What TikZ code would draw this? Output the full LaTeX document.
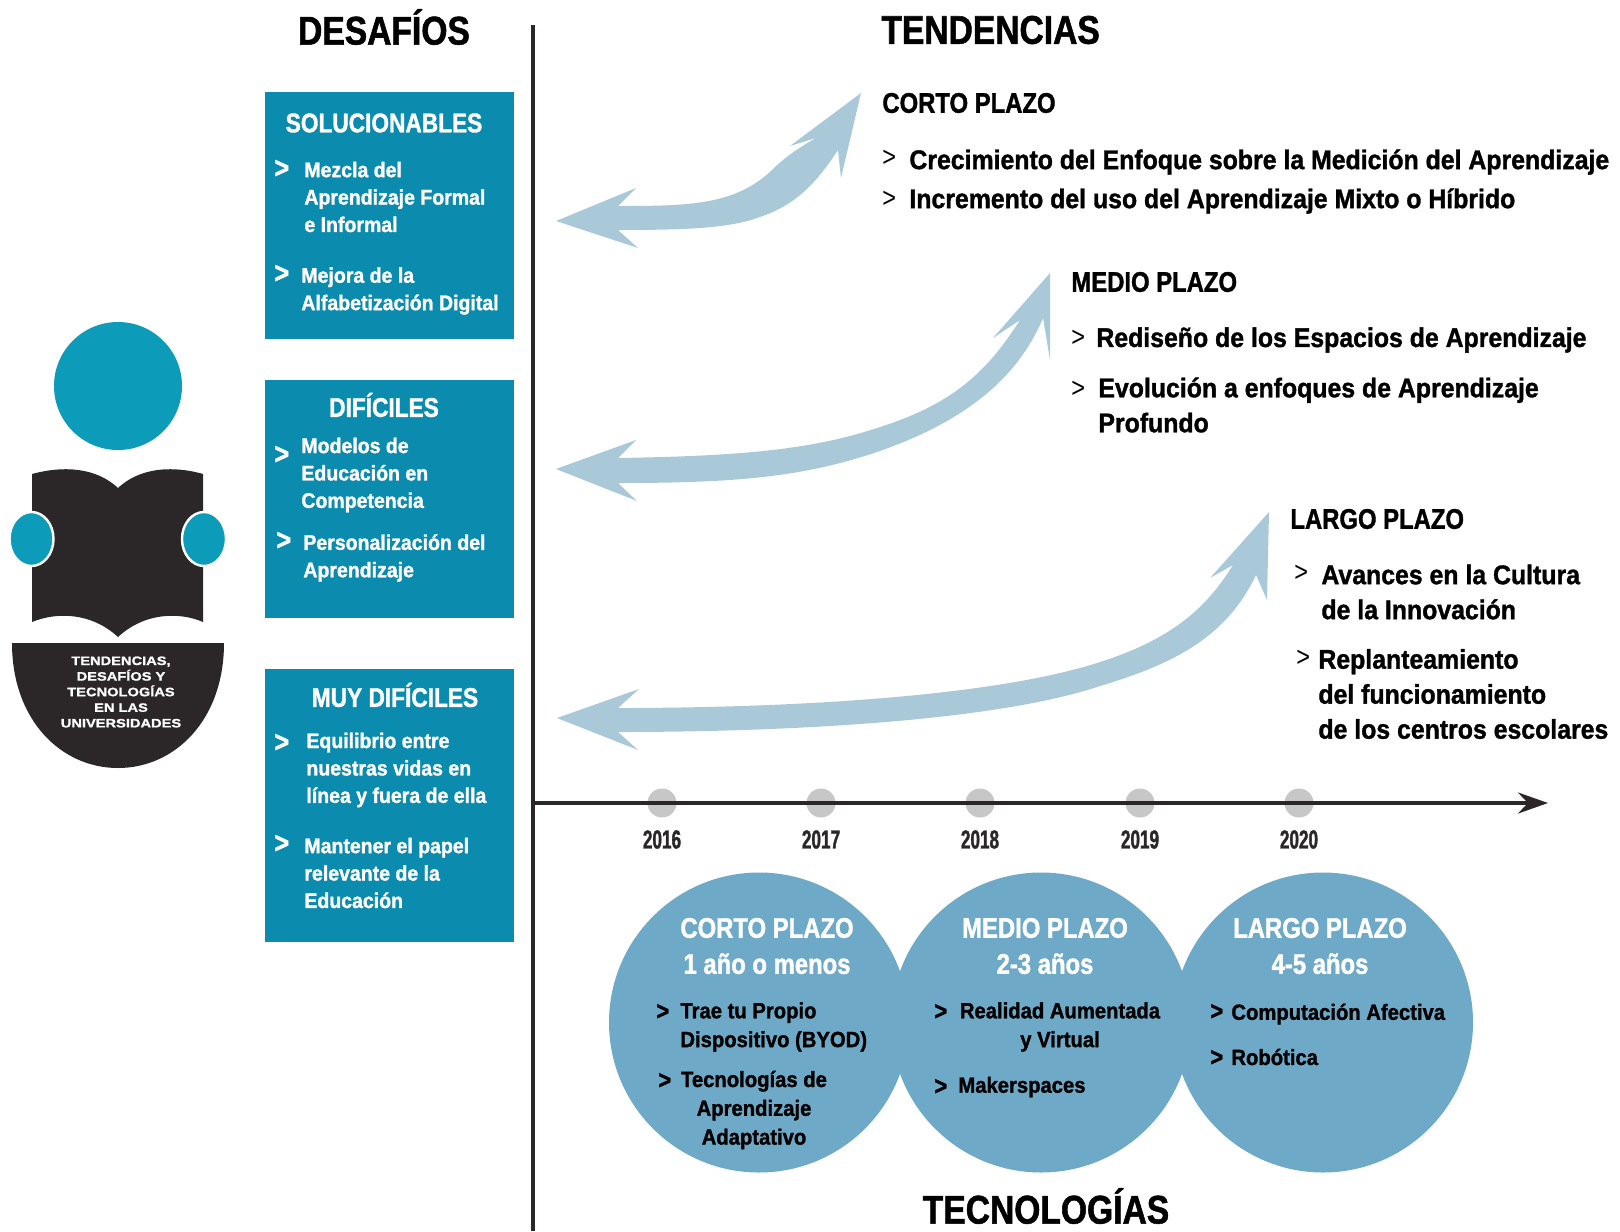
\documentclass[tikz,border=0pt]{standalone}
\usepackage{fontspec}
\setmainfont{Liberation Sans}[FakeStretch=0.84, BoldFeatures={FakeBold=1.3}]
\newfontfamily\itemfont{Liberation Sans}[FakeStretch=0.92, BoldFeatures={FakeBold=1.3}]
\newfontfamily\yearfont{Liberation Sans}[FakeStretch=0.66, BoldFeatures={FakeBold=1.3}]
\newfontfamily\widefont{Liberation Sans}[FakeStretch=1.2, BoldFeatures={FakeBold=1.3}]
\usetikzlibrary{positioning}
\usetikzlibrary{shapes.geometric}
\usetikzlibrary{arrows.meta}
\definecolor{panelblue}{HTML}{0B8BAD}
\definecolor{headblue}{HTML}{0C9BB8}
\definecolor{circleblue}{HTML}{6EAAC8}
\definecolor{swooshblue}{HTML}{A9C9D9}
\definecolor{bookdark}{HTML}{2B2627}

\begin{document}
\begin{tikzpicture}[
        x = 0.5pt,
        y = -0.5pt,
        panel/.style = {
            fill=panelblue,
            minimum width = 124.5pt,
            inner sep = 0pt,
            outer sep = 0pt
        },
        bubble/.style = {
            circle,
            fill=circleblue,
            minimum size = 150pt,
            inner sep = 0pt
        },
        hand/.style = {
            ellipse,
            fill=headblue,
            draw=white,
            line width = 1.2pt,
            minimum width = 22pt,
            minimum height = 27pt,
            inner sep = 0pt
        },
        dot/.style = {
            circle,
            fill=black!22,
            minimum size = 14.5pt,
            inner sep = 0pt
        },
        heading/.style = {font=\fontsize{20}{21}\selectfont\bfseries, inner sep = 0pt},
        term/.style = {font=\fontsize{14.2}{16}\selectfont\bfseries, inner sep = 0pt, anchor=west},
        point/.style = {font=\itemfont\fontsize{13.5}{17.5}\selectfont\bfseries, inner sep = 0pt, anchor=west, align=left},
        mark right/.style = {font=\fontsize{14}{16}\selectfont, inner sep = 0pt, anchor=west},
        paneltitle/.style = {font=\fontsize{13.5}{16}\selectfont\bfseries, text=white, inner sep = 0pt},
        paneltext/.style = {font=\itemfont\fontsize{10.6}{13.7}\selectfont\bfseries, text=white, inner sep = 0pt, anchor=west, align=left},
        panelmark/.style = {font=\fontsize{15}{16}\selectfont\bfseries, text=white, inner sep = 0pt, anchor=west},
        bubbletitle/.style = {font=\fontsize{14.2}{18}\selectfont\bfseries, text=white, inner sep = 0pt, align=center},
        bubbletext/.style = {font=\itemfont\fontsize{11}{14.4}\selectfont\bfseries, inner sep = 0pt, anchor=west, align=left},
        bubblemark/.style = {font=\fontsize{13}{15}\selectfont\bfseries, inner sep = 0pt, anchor=west},
        year/.style = {font=\yearfont\fontsize{13}{14}\selectfont\bfseries, text=bookdark, inner sep = 0pt}
    ]
    \useasboundingbox (0,0) rectangle (1620,1231);

    \node[circle, fill=headblue, minimum size = 64pt, inner sep = 0pt] (head) at (118,386) {};
    \fill[bookdark] (32,474) .. controls (50,469) and (90,462) .. (118,488) .. controls (146,462) and (186,469) .. (203,474) -- (203,622) .. controls (180,612) and (145,612) .. (118,637) .. controls (91,612) and (56,612) .. (32,622) -- cycle;
    \fill[bookdark] (12,643) -- (224,643) .. controls (224,720) and (175,768) .. (118,768) .. controls (61,768) and (12,720) .. (12,643) -- cycle;
    \node[hand] (lefthand) at (31.5,539) {};
    \node[hand] (righthand) at (204,539) {};
    \node[font=\widefont\fontsize{6.1}{7.8}\selectfont\bfseries, text=white, align=center, inner sep = 0pt] (caption) at (121,692) {TENDENCIAS,\\DESAFÍOS Y\\TECNOLOGÍAS\\EN LAS\\UNIVERSIDADES};

    \node[heading] (desafios) at (384,27) {DESAFÍOS};
    \node[heading, anchor=west] (tendencias) at (881,30) {TENDENCIAS};
    \node[heading] (tecnologias) at (1046,1206) {TECNOLOGÍAS};

    \node[panel, minimum height = 123.5pt] (solucionables) at (389,215.5) {};
    \node[panel, minimum height = 119pt] (dificiles) at (389,499) {};
    \node[panel, minimum height = 136.5pt] (muydificiles) at (389,805.5) {};

    \node[paneltitle] (t1) at (384,123) {SOLUCIONABLES};
    \node[panelmark] (m1) at (274,169) {>};
    \node[paneltext] (p1) at (304,197) {Mezcla del\\Aprendizaje Formal\\e Informal};
    \node[panelmark] (m2) at (274,274) {>};
    \node[paneltext] (p2) at (301,291) {Mejora de la\\Alfabetización Digital};
    \node[paneltitle] (t2) at (384,405) {DIFÍCILES};
    \node[panelmark] (m3) at (274,455) {>};
    \node[paneltext] (p3) at (301,475) {Modelos de\\Educación en\\Competencia};
    \node[panelmark] (m4) at (276,541) {>};
    \node[paneltext] (p4) at (303,558) {Personalización del\\Aprendizaje};
    \node[paneltitle] (t3) at (395,695) {MUY DIFÍCILES};
    \node[panelmark] (m5) at (274,743) {>};
    \node[paneltext] (p5) at (306,770) {Equilibrio entre\\nuestras vidas en\\línea y fuera de ella};
    \node[panelmark] (m6) at (274,844) {>};
    \node[paneltext] (p6) at (304,873) {Mantener el papel\\relevante de la\\Educación};

    \draw[line width = 1.6pt, bookdark] (533,25) coordinate (linetop) -- (533,1231) coordinate (linebottom);
    \coordinate (axisstart) at (533,803);
    \coordinate (axisend) at (1548,803);

    \fill[swooshblue] (556,221) -- (636,188) -- (618,206) .. controls (690,206) and (735,205) .. (772,170) .. controls (785,157) and (800,147) .. (816,138) -- (790,146) -- (861,93) -- (841,178) -- (838,150) .. controls (815,185) and (795,205) .. (760,217) .. controls (730,228) and (690,230) .. (618,230) -- (638,248) -- cycle;
    \fill[swooshblue] (556,469) -- (636,440) -- (618,458) .. controls (740,456) and (810,450) .. (877,428) .. controls (950,405) and (985,375) .. (1020,320) -- (993,338) -- (1050,273) -- (1050,360) -- (1043,318) .. controls (1015,385) and (955,425) .. (877,452) .. controls (800,478) and (730,483) .. (618,483) -- (637,501) -- cycle;
    \fill[swooshblue] (557,718) -- (639,689) -- (618,708) .. controls (760,708) and (980,700) .. (1097,663) .. controls (1170,640) and (1205,610) .. (1233,565) -- (1210,578) -- (1269,512) -- (1267,600) -- (1256,575) .. controls (1225,640) and (1170,665) .. (1097,687) .. controls (990,722) and (780,732) .. (618,732) -- (638,750) -- cycle;

    \node[term] (corto) at (882,103) {CORTO PLAZO};
    \node[mark right] (r1) at (882,158) {>};
    \node[point] (c1) at (909,162) {Crecimiento del Enfoque sobre la Medición del Aprendizaje};
    \node[mark right] (r2) at (882,199) {>};
    \node[point] (c2) at (909,201) {Incremento del uso del Aprendizaje Mixto o Híbrido};
    \node[term] (medio) at (1071,282) {MEDIO PLAZO};
    \node[mark right] (r3) at (1071,338) {>};
    \node[point] (c3) at (1096,340) {Rediseño de los Espacios de Aprendizaje};
    \node[mark right] (r4) at (1071,389) {>};
    \node[point] (c4) at (1098,405) {Evolución a enfoques de Aprendizaje\\Profundo};
    \node[term] (largo) at (1290,519) {LARGO PLAZO};
    \node[mark right] (r5) at (1294,573) {>};
    \node[point] (c5) at (1321,592) {Avances en la Cultura\\de la Innovación};
    \node[mark right] (r6) at (1296,658) {>};
    \node[point] (c6) at (1318,694) {Replanteamiento\\del funcionamiento\\de los centros escolares};

    \node[dot] (d1) at (662,803) {};
    \node[dot] (d2) at (821,803) {};
    \node[dot] (d3) at (980,803) {};
    \node[dot] (d4) at (1140,803) {};
    \node[dot] (d5) at (1299,803) {};
    \draw[line width = 2pt, bookdark, -{Stealth[length=15pt, width=10.5pt, inset=5pt]}] (axisstart) -- (axisend);
    \node[year, below=6pt of d1] (y1) {2016};
    \node[year, below=6pt of d2] (y2) {2017};
    \node[year, below=6pt of d3] (y3) {2018};
    \node[year, below=6pt of d4] (y4) {2019};
    \node[year, below=6pt of d5] (y5) {2020};

    \node[bubble] (b1) at (759,1022.5) {};
    \node[bubble] (b2) at (1041,1022.5) {};
    \node[bubble] (b3) at (1323,1022.5) {};

    \node[bubbletitle] (h1) at (767,946) {CORTO PLAZO\\1 año o menos};
    \node[bubblemark] (a1) at (656,1012) {>};
    \node[bubbletext] (x1) at (680,1027) {Trae tu Propio\\Dispositivo (BYOD)};
    \node[bubblemark] (a2) at (658,1081) {>};
    \node[bubbletext, anchor=center, align=center] (x2) at (754,1110) {Tecnologías de\\Aprendizaje\\Adaptativo};
    \node[bubbletitle] (h2) at (1045,946) {MEDIO PLAZO\\2-3 años};
    \node[bubblemark] (a3) at (934,1012) {>};
    \node[bubbletext, anchor=center, align=center] (x3) at (1060,1027) {Realidad Aumentada\\y Virtual};
    \node[bubblemark] (a4) at (934,1087) {>};
    \node[bubbletext] (x4) at (958,1087) {Makerspaces};
    \node[bubbletitle] (h3) at (1320,946) {LARGO PLAZO\\4-5 años};
    \node[bubblemark] (a5) at (1210,1012) {>};
    \node[bubbletext] (x5) at (1231,1014) {Computación Afectiva};
    \node[bubblemark] (a6) at (1210,1058) {>};
    \node[bubbletext] (x6) at (1231,1057) {Robótica};
\end{tikzpicture}
\end{document}
